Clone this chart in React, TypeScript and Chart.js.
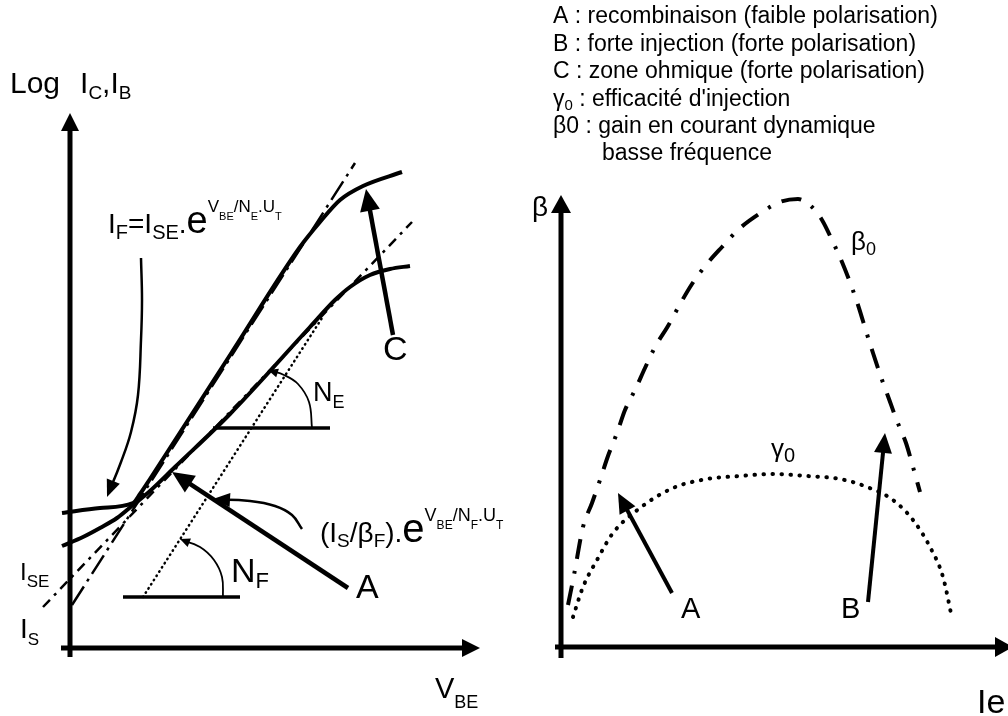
import React, { useEffect, useRef } from "react";
import { Chart, registerables } from "chart.js";
Chart.register(...registerables);

type P = [number, number];
type Seg = [string, number, number?, number?]; // text, font size, baseline offset, extra x gap
type Label = { at: P; segs: Seg[] };

const FONT = '"Liberation Sans", Arial, Helvetica, sans-serif';

// ---------- Left panel : Log Ic, Ib versus VBE (arbitrary units) ----------
const axisYLeft: P[] = [[0, -1.8], [0, 107]];
const axisXLeft: P[] = [[-2.25, 0], [102.5, 0]];
const icCurve: P[] = [[-2, 27], [7.5, 28], [15.75, 29], [17.5, 30.8], [20, 33.8], [40.5, 59.2], [57.5, 80.2], [62.5, 85.2], [67.5, 89.6], [73.25, 92.4], [83, 95.2]];
const ibCurve: P[] = [[-2, 20.4], [3.25, 22.2], [7.5, 24], [11.75, 26], [15.75, 28.6], [20, 31.4], [26.25, 36.2], [40, 46.8], [60, 64.2], [66.25, 69.6], [70, 72.2], [75, 74.6], [80, 75.8], [85, 76.4]];
const asymptoteIF: P[] = [[0.5, 8.6], [71.25, 97]];
const asymptoteIB: P[] = [[-6.75, 8.2], [85.5, 85.2]];
const slopeNF: P[] = [[18.25, 10.2], [63, 66]];
const baseNF: P[] = [[13.25, 10.2], [42.5, 10.2]];
const baseNE: P[] = [[35.75, 44], [65, 44]];
const arcNF: P[] = [[38.25, 10.2], [38, 14.2], [36, 17.6], [32.5, 20.2], [27.5, 21.8]];
const arcNE: P[] = [[60.5, 44], [59.75, 49.2], [57, 52.8], [53.5, 54.6], [49.5, 55.6]];
const pointerIF: P[] = [[17.75, 78], [18, 69.6], [17.75, 61.6], [17, 50.6], [15.25, 43.2], [12.75, 37.2], [9.25, 30.2]];
const pointerIS: P[] = [[58, 23.8], [55.5, 26.6], [51.25, 28.4], [45, 29.4], [35.75, 29.8]];
const arrowALeft: P[] = [[69.5, 12], [25.5, 35.2]];
const arrowC: P[] = [[80.75, 62.6], [74, 91.8]];

// ---------- Right panel : beta versus Ie (arbitrary units) ----------
const axisYRight: P[] = [[0, -2.2], [0, 90.4]];
const axisXRight: P[] = [[-1.5, 0], [113, 0]];
const beta0Curve: P[] = [[1.75, 8.4], [3.25, 14.4], [5.5, 24], [7.75, 28.8], [9.75, 33.4], [11.75, 38.2], [14, 42.8], [16, 47.4], [18.5, 51.4], [21, 55.8], [23.5, 60], [26.75, 64.2], [29.5, 68.2], [32.75, 72.6], [36.25, 76.4], [40.25, 80], [44.5, 83.6], [49.5, 86.6], [54.75, 89], [59.25, 89.6], [62.75, 88], [65.25, 85.4], [67.75, 81.4], [70.25, 77], [72.5, 72.4], [74.5, 67.8], [76.25, 63.2], [78, 58.8], [80, 54], [82, 49.6], [84, 45.2], [86.25, 40.8], [88, 36], [89.75, 31]];
const gamma0Curve: P[] = [[3, 6], [5.5, 12], [9, 17.4], [13, 22.8], [19.75, 27.8], [28, 31.8], [36.5, 33.6], [44.75, 34.2], [53, 34.6], [61.5, 34.2], [69.75, 33.6], [76.5, 32], [83, 29.4], [88, 25.4], [92.25, 20], [95.5, 14], [97.75, 5.8]];
const arrowARight: P[] = [[27.75, 10.8], [14.25, 30.8]];
const arrowBRight: P[] = [[76.75, 9], [81, 42.8]];

// ---------- Text ----------
const leftLabels: Label[] = [
  { at: [-15, 111], segs: [["Log", 30], ["I", 30, 0, 20], ["C", 19, 6], [",I", 30], ["B", 19, 6]] },
  { at: [9.5, 83], segs: [["I", 28], ["F", 20, 6], ["=", 28], ["I", 28], ["SE", 20, 6], [".", 28], ["e", 38], ["V", 17, -21], ["BE", 11, -13], ["/N", 17, -21], ["E", 11, -13], [".U", 17, -21], ["T", 11, -13]] },
  { at: [62.5, 21.2], segs: [["(", 28], ["I", 28], ["S", 19, 5], ["/", 28], ["β", 28], ["F", 19, 5], [").", 28], ["e", 40], ["V", 18, -21], ["BE", 12, -13], ["/N", 18, -21], ["F", 12, -13], [".U", 18, -21], ["T", 12, -13]] },
  { at: [60.75, 49.4], segs: [["N", 27], ["E", 18, 7]] },
  { at: [40.25, 13.2], segs: [["N", 34], ["F", 22, 6]] },
  { at: [71.5, 10], segs: [["A", 34]] },
  { at: [78.25, 57.6], segs: [["C", 34]] },
  { at: [91.25, -10], segs: [["V", 29], ["BE", 18, 10]] },
  { at: [-12.5, 13.6], segs: [["I", 24], ["SE", 17, 7]] },
  { at: [-12.5, 2], segs: [["I", 28], ["S", 17, 7]] },
];

const rightLabels: Label[] = [
  { at: [-2, 124.8], segs: [["A : recombinaison (faible polarisation)", 23]] },
  { at: [-2, 119.3], segs: [["B : forte injection (forte polarisation)", 23]] },
  { at: [-2, 113.8], segs: [["C : zone ohmique (forte polarisation)", 23]] },
  { at: [-2, 108.3], segs: [["γ", 23], ["0", 15, 4], [" : efficacité d'injection", 23]] },
  { at: [-2, 102.8], segs: [["β0 : gain en courant dynamique", 23]] },
  { at: [10.25, 97.4], segs: [["basse fréquence", 23]] },
  { at: [-7.25, 86.2], segs: [["β", 28]] },
  { at: [72.5, 79.4], segs: [["β", 26], ["0", 18, 5]] },
  { at: [52.5, 38], segs: [["γ", 26], ["0", 20, 5]] },
  { at: [30, 5.8], segs: [["A", 29]] },
  { at: [70, 5.8], segs: [["B", 29]] },
  { at: [104, -13.2], segs: [["Ie", 34]] },
];

const toPts = (a: P[]) => a.map(([x, y]) => ({ x, y }));

function line(data: P[], o: any = {}) {
  return {
    data: toPts(data),
    borderColor: "#000",
    backgroundColor: "#000",
    borderWidth: 4,
    pointRadius: 0,
    pointHoverRadius: 0,
    showLine: true,
    fill: false,
    clip: false,
    tension: 0,
    borderCapStyle: "butt",
    ...o,
  };
}

const arrowPlugin = {
  id: "arrowHeads",
  beforeDatasetDraw(chart: any, args: any) {
    const ds = chart.data.datasets[args.index];
    if (!ds.arrow) return;
    const pts = args.meta.data;
    const n = pts.length;
    const tip = pts[n - 1];
    const prev = pts[n - 2];
    let dx = tip.x - prev.x;
    let dy = tip.y - prev.y;
    const d = Math.hypot(dx, dy) || 1;
    dx /= d;
    dy /= d;
    ds._tip = { x: tip.x, y: tip.y, dx, dy };
    const back = ds.arrow[0] * 0.75;
    tip.x -= dx * back;
    tip.y -= dy * back;
  },
  afterDatasetDraw(chart: any, args: any) {
    const ds = chart.data.datasets[args.index];
    if (!ds.arrow || !ds._tip) return;
    const pts = args.meta.data;
    const tip = pts[pts.length - 1];
    const t = ds._tip;
    tip.x = t.x;
    tip.y = t.y;
    const [len, hw] = ds.arrow;
    const bx = t.x - t.dx * len;
    const by = t.y - t.dy * len;
    const px = -t.dy;
    const py = t.dx;
    const ctx = chart.ctx;
    ctx.save();
    ctx.fillStyle = "#000";
    ctx.beginPath();
    ctx.moveTo(t.x, t.y);
    ctx.lineTo(bx + px * hw, by + py * hw);
    ctx.lineTo(bx - px * hw, by - py * hw);
    ctx.closePath();
    ctx.fill();
    ctx.restore();
  },
};

function labelPlugin(labels: Label[]) {
  return {
    id: "richLabels",
    afterDraw(chart: any) {
      const ctx = chart.ctx;
      const xs = chart.scales.x;
      const ys = chart.scales.y;
      ctx.save();
      ctx.fillStyle = "#000";
      ctx.textBaseline = "alphabetic";
      ctx.textAlign = "left";
      for (const lb of labels) {
        let x = xs.getPixelForValue(lb.at[0]);
        const y = ys.getPixelForValue(lb.at[1]);
        for (const [t, size, dy = 0, gap = 0] of lb.segs) {
          ctx.font = `${size}px ${FONT}`;
          x += gap;
          ctx.fillText(t, x, y + dy);
          x += ctx.measureText(t).width;
        }
      }
      ctx.restore();
    },
  };
}

function makeChart(canvas: HTMLCanvasElement, datasets: any[], labels: Label[], xr: P, yr: P, pad: any) {
  return new Chart(canvas, {
    type: "scatter",
    data: { datasets },
    options: {
      responsive: false,
      animation: false,
      events: [],
      layout: { padding: pad },
      plugins: { legend: { display: false }, tooltip: { enabled: false } },
      scales: {
        x: { type: "linear", min: xr[0], max: xr[1], display: false },
        y: { type: "linear", min: yr[0], max: yr[1], display: false },
      },
    } as any,
    plugins: [arrowPlugin as any, labelPlugin(labels) as any],
  });
}

export default function App() {
  const leftRef = useRef<HTMLCanvasElement>(null);
  const rightRef = useRef<HTMLCanvasElement>(null);

  useEffect(() => {
    const dot = { borderCapStyle: "round" };
    const leftSets = [
      line(axisYLeft, { borderWidth: 5, arrow: [18, 9] }),
      line(axisXLeft, { borderWidth: 5, arrow: [18, 9] }),
      line(asymptoteIF, { borderWidth: 2.5, borderDash: [22, 6, 3, 6] }),
      line(asymptoteIB, { borderWidth: 2.5, borderDash: [10, 6, 3, 6] }),
      line(slopeNF, { borderWidth: 2.5, borderDash: [0.5, 4.5], ...dot }),
      line(icCurve, { borderWidth: 4, cubicInterpolationMode: "monotone" }),
      line(ibCurve, { borderWidth: 4, cubicInterpolationMode: "monotone" }),
      line(baseNF, { borderWidth: 3.5 }),
      line(baseNE, { borderWidth: 3.5 }),
      line(arcNF, { borderWidth: 1.8, tension: 0.4, arrow: [10, 4.5] }),
      line(arcNE, { borderWidth: 1.8, tension: 0.4, arrow: [10, 4.5] }),
      line(pointerIF, { borderWidth: 2.5, tension: 0.4, arrow: [17, 7] }),
      line(pointerIS, { borderWidth: 2.5, tension: 0.4, arrow: [17, 7] }),
      line(arrowALeft, { borderWidth: 4.5, arrow: [22, 10] }),
      line(arrowC, { borderWidth: 4.5, arrow: [22, 10] }),
    ];
    const rightSets = [
      line(axisYRight, { borderWidth: 5, arrow: [18, 10] }),
      line(axisXRight, { borderWidth: 5, arrow: [18, 10] }),
      line(beta0Curve, { borderWidth: 4, borderDash: [20, 12, 3, 12], cubicInterpolationMode: "monotone" }),
      line(gamma0Curve, { borderWidth: 4, borderDash: [0.5, 8.5], cubicInterpolationMode: "monotone", ...dot }),
      line(arrowARight, { borderWidth: 4, arrow: [20, 9] }),
      line(arrowBRight, { borderWidth: 4, arrow: [20, 9] }),
    ];
    const c1 = makeChart(leftRef.current!, leftSets, leftLabels, [0, 100], [0, 107], { left: 70, right: 538, top: 113, bottom: 68 });
    const c2 = makeChart(rightRef.current!, rightSets, rightLabels, [0, 110], [0, 92], { left: 561, right: 7, top: 187, bottom: 69 });
    return () => {
      c1.destroy();
      c2.destroy();
    };
  }, []);

  const cs: React.CSSProperties = { position: "absolute", left: 0, top: 0, width: 1008, height: 716 };
  return (
    <div style={{ position: "absolute", left: 0, top: 0, width: 1008, height: 716, background: "#fff", overflow: "hidden" }}>
      <canvas ref={leftRef} width={1008} height={716} style={cs} />
      <canvas ref={rightRef} width={1008} height={716} style={cs} />
    </div>
  );
}
